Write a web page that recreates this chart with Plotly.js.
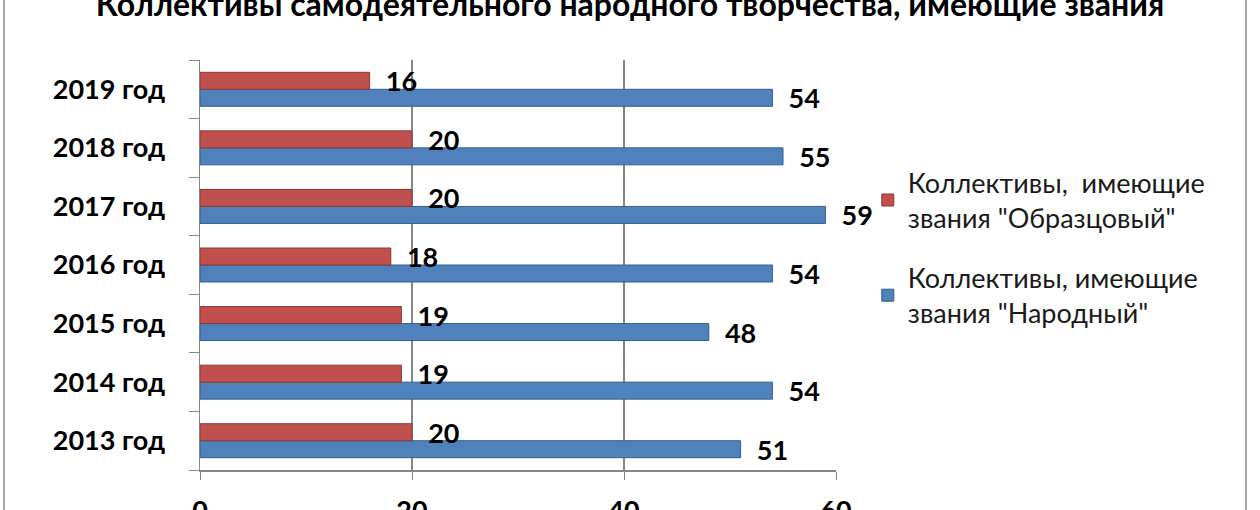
<!DOCTYPE html>
<html>
<head>
<meta charset="utf-8">
<script src="https://cdn.plot.ly/plotly-3.0.1.min.js"></script>
<style>
  body { margin: 0; background: #fff; }
  #frame { position: absolute; left: 3px; top: 0; width: 1244px; height: 510px;
           border-left: 2px solid #a6a6a6; border-right: 2px solid #a6a6a6; box-sizing: border-box; pointer-events: none; }
  #chart { width: 1260px; height: 510px; }
</style>
</head>
<body>
<div id="chart"></div>
<div id="frame"></div>
<script>
var years = ['2013 год', '2014 год', '2015 год', '2016 год', '2017 год', '2018 год', '2019 год'];
var obraz = [20, 19, 19, 18, 20, 20, 16];
var narod = [51, 54, 48, 54, 59, 55, 54];
var xTicks = [0, 20, 40, 60];

var fontName = 'Lato, "Open Sans", sans-serif';

var blue = {
    y: years,
    x: narod,
    name: 'Коллективы, имеющие<br>звания "Народный"',
    type: 'bar',
    orientation: 'h',
    marker: { color: '#4f81bd', line: { color: '#385d8a', width: 1 } },
    texttemplate: '\u00a0\u00a0%{x}',
    textposition: 'outside',
    constraintext: 'none',
    cliponaxis: false,
    textfont: { family: fontName, size: 27, color: '#000', weight: 'bold' },
    legendgroup: 'narod',
    legendrank: 2,
    hoverinfo: 'x+y'
};

var red = {
    y: years,
    x: obraz,
    name: 'Коллективы,  имеющие<br>звания "Образцовый"',
    type: 'bar',
    orientation: 'h',
    marker: { color: '#c0504d', line: { color: '#8c3836', width: 1 } },
    texttemplate: '\u00a0\u00a0%{x}',
    textposition: 'outside',
    constraintext: 'none',
    cliponaxis: false,
    textfont: { family: fontName, size: 27, color: '#000', weight: 'bold' },
    legendgroup: 'obraz',
    legendrank: 1,
    hoverinfo: 'x+y'
};

var layout = {
    width: 1260,
    height: 510,
    margin: { l: 200, r: 424, t: 60, b: 40 },
    paper_bgcolor: '#fff',
    plot_bgcolor: '#fff',
    font: { family: fontName, color: '#000' },
    title: {
        text: 'Коллективы самодеятельного народного творчества, имеющие звания',
        font: { family: fontName, size: 32, weight: 'bold', color: '#000' },
        x: 0.5,
        xanchor: 'center',
        y: 0.99,
        yanchor: 'middle'
    },
    barmode: 'group',
    bargap: 0.42,
    bargroupgap: 0,
    showlegend: true,
    legend: {
        x: 1.05,
        xanchor: 'left',
        y: 0.76,
        yanchor: 'top',
        traceorder: 'grouped',
        tracegroupgap: 22,
        font: { family: fontName, size: 27, color: '#1a1a1a' },
        bgcolor: 'rgba(0,0,0,0)'
    },
    xaxis: {
        range: [0, 60],
        tickvals: xTicks,
        showgrid: true,
        gridcolor: '#868686',
        gridwidth: 1.5,
        zeroline: false,
        showline: true,
        linecolor: '#868686',
        linewidth: 1.5,
        ticks: 'outside',
        ticklen: 8,
        tickcolor: '#868686',
        ticklabelstandoff: 8,
        tickfont: { family: fontName, size: 27, weight: 'bold', color: '#000' },
        fixedrange: true
    },
    yaxis: {
        type: 'category',
        categoryorder: 'array',
        categoryarray: years,
        showline: true,
        linecolor: '#868686',
        linewidth: 1.5,
        ticks: 'outside',
        tickson: 'boundaries',
        ticklen: 10,
        tickcolor: '#868686',
        ticklabelstandoff: 28,
        showgrid: false,
        tickfont: { family: fontName, size: 27, weight: 'bold', color: '#000' },
        fixedrange: true
    }
};

Plotly.newPlot('chart', [blue, red], layout, { displayModeBar: false, staticPlot: true });
</script>
</body>
</html>
